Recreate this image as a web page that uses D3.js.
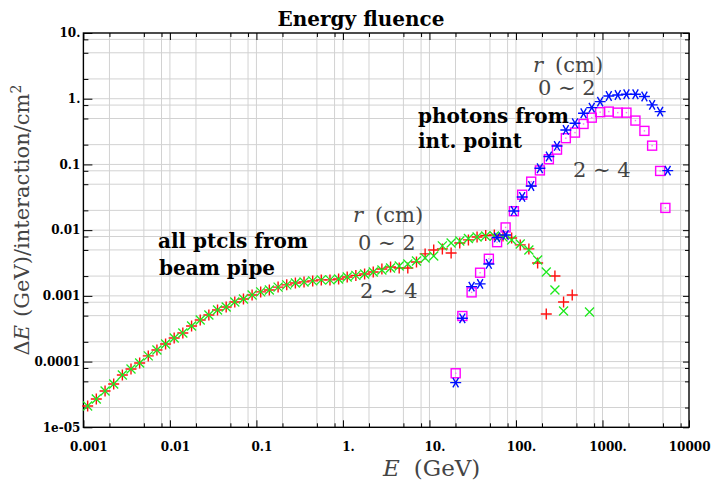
<!DOCTYPE html>
<html>
<head>
<meta charset="utf-8">
<script src="https://cdn.jsdelivr.net/npm/d3@7"></script>
<style>
body { margin: 0; background: #fff; }
svg { display: block; }
.bold { font-family: 'DejaVu Serif', serif; font-weight: bold; fill: #000; }
.math { font-family: 'DejaVu Serif', serif; fill: #444; }
.tick text { font-family: 'DejaVu Serif', serif; font-weight: bold; font-size: 12px; fill: #000; }
.tick line { stroke: #000; }
.domain { display: none; }
</style>
</head>
<body>
<div id="chart"></div>
<script>
// beam pipe particles (red + : r 0~2, green x : r 2~4)
const beamE = [0.00112, 0.00141, 0.00178, 0.00224, 0.00282, 0.00355, 0.00447, 0.00562, 0.00708, 0.00891,
  0.0112, 0.0141, 0.0178, 0.0224, 0.0282, 0.0355, 0.0447, 0.0562, 0.0708, 0.0891,
  0.112, 0.141, 0.178, 0.224, 0.282, 0.355, 0.447, 0.562, 0.708, 0.891,
  1.12, 1.41, 1.78, 2.24, 2.82, 3.55, 4.47, 5.62, 7.08, 8.91,
  11.2, 14.1, 17.8, 22.4, 28.2, 35.5, 44.7, 56.2, 70.8, 89.1,
  112, 141, 178, 224, 282, 355, 447, 562, 708]

const redV = [2.11e-5, 2.70e-5, 3.57e-5, 4.56e-5, 6.25e-5, 7.70e-5, 9.52e-5, 1.22e-4, 1.50e-4, 1.85e-4,
  2.29e-4, 2.72e-4, 3.48e-4, 4.29e-4, 5.12e-4, 6.09e-4, 6.77e-4, 8.07e-4, 8.97e-4, 1.03e-3,
  1.15e-3, 1.23e-3, 1.36e-3, 1.47e-3, 1.57e-3, 1.63e-3, 1.69e-3, 1.75e-3, 1.75e-3, 1.81e-3,
  1.94e-3, 2.05e-3, 2.15e-3, 2.31e-3, 2.56e-3, 2.75e-3, 2.66e-3, 2.66e-3, 3.28e-3, 4.35e-3,
  5.0e-3, 5.18e-3, 4.50e-3, 6.38e-3, 7.10e-3, 7.87e-3, 8.31e-3, 8.45e-3, 8.17e-3, 7.60e-3,
  5.96e-3, 5.18e-3, 3.17e-3, 5.31e-4, 2.01e-3, 8.07e-4, 1.03e-3, null, null]

const greenV = [2.11e-5, 2.70e-5, 3.57e-5, 4.56e-5, 6.25e-5, 7.70e-5, 9.52e-5, 1.22e-4, 1.50e-4, 1.85e-4,
  2.29e-4, 2.72e-4, 3.48e-4, 4.29e-4, 5.12e-4, 6.09e-4, 6.77e-4, 8.07e-4, 8.97e-4, 1.03e-3,
  1.15e-3, 1.23e-3, 1.36e-3, 1.47e-3, 1.57e-3, 1.63e-3, 1.69e-3, 1.75e-3, 1.75e-3, 1.81e-3,
  1.94e-3, 2.05e-3, 2.15e-3, 2.31e-3, 2.48e-3, 2.66e-3, 2.85e-3, 3.06e-3, 3.40e-3, 3.78e-3,
  4.05e-3, 5.77e-3, 6.38e-3, 6.85e-3, 7.48e-3, 7.87e-3, 8.17e-3, 8.17e-3, 7.87e-3, 7.10e-3,
  6.17e-3, 5.0e-3, 3.52e-3, 2.31e-3, 1.23e-3, 5.89e-4, null, null, 5.69e-4]

// photons from interaction point (blue * : r 0~2, magenta squares : r 2~4)
const blueE = [20.1, 24.0, 30.7, 38.5, 48.6, 60.5, 75.9, 94.6, 118, 150, 189, 240, 298,
  377, 481, 604, 752, 940, 1183, 1502, 1892, 2404, 3053, 3747, 4638, 5675]
const blueV = [4.78e-5, 4.56e-4, 1.38e-3, 1.52e-3, 3.06e-3, 7.74e-3, 8.45e-3, 0.0196, 0.032, 0.047, 0.0875, 0.132, 0.191,
  0.335, 0.424, 0.601, 0.733, 0.904, 1.10, 1.14, 1.17, 1.17, 1.08, 0.805, 0.637, 0.0805]

const magentaE = [20.1, 24.0, 30.7, 38.5, 48.6, 60.5, 75.9, 94.6, 118, 150, 189, 240, 298,
  377, 481, 604, 752, 940, 1183, 1502, 1892, 2404, 3053, 3747, 4638, 5333]
const magentaV = [6.64e-5, 4.94e-4, 1.13e-3, 2.25e-3, 3.67e-3, 6.56e-3, 0.011, 0.0194, 0.0346, 0.0547, 0.0811, 0.12, 0.168,
  0.251, 0.305, 0.413, 0.515, 0.624, 0.637, 0.614, 0.614, 0.465, 0.324, 0.193, 0.0796, 0.0218]

const xTicks = [0.001, 0.01, 0.1, 1, 10, 100, 1000, 10000]
const xTickLabels = ['0.001', '0.01', '0.1', '1.', '10.', '100.', '1000.', '10000']
const yTicks = [1e-5, 1e-4, 1e-3, 0.01, 0.1, 1, 10]
const yTickLabels = ['1e-05', '0.0001', '0.001', '0.01', '0.1', '1.', '10.']
const minorSteps = [2, 5, 8]

let width = 711
let height = 487

let svg = d3.select('#chart').append('svg')
.attr('width', width)
.attr('height', height)

let x = d3.scaleLog().domain([0.001, 10000]).range([83.4, 689])
let y = d3.scaleLog().domain([1e-5, 10]).range([427.3, 33])

const minorOf = ticks => ticks.slice(0, -1).flatMap(d => minorSteps.map(m => m * d))
let xMinor = minorOf(xTicks)
let yMinor = minorOf(yTicks)

// grid lines at 1, 2, 5, 8 of every decade
let grid = svg.append('g')
.attr('stroke', '#d2d2d2')
.attr('stroke-width', 1)

grid.selectAll('.gx')
.data(xMinor.concat(xTicks.slice(1, -1)))
.enter()
.append('line')
.attr('x1', d => x(d)).attr('x2', d => x(d))
.attr('y1', y(10)).attr('y2', y(1e-5))

grid.selectAll('.gy')
.data(yMinor.concat(yTicks.slice(1, -1)))
.enter()
.append('line')
.attr('y1', d => y(d)).attr('y2', d => y(d))
.attr('x1', x(0.001)).attr('x2', x(10000))

// axes, ticks pointing inward
let plotBottom = y(1e-5), plotTop = y(10), plotLeft = x(0.001), plotRight = x(10000)

svg.append('g')
.attr('transform', `translate(0,${plotBottom})`)
.call(d3.axisBottom(x).tickValues(xTicks).tickFormat((d, i) => xTickLabels[i]).tickSize(-7).tickPadding(15))
.selectAll('text')
.attr('dx', (d, i) => i === xTicks.length - 1 ? 21 : 5)
.attr('text-anchor', (d, i) => i === xTicks.length - 1 ? 'end' : 'middle')

svg.append('g')
.attr('transform', `translate(0,${plotBottom})`)
.call(d3.axisBottom(x).tickValues(xMinor).tickFormat('').tickSize(-4))

svg.append('g')
.attr('transform', `translate(0,${plotTop})`)
.call(d3.axisTop(x).tickValues(xTicks).tickFormat('').tickSize(-7))

svg.append('g')
.attr('transform', `translate(0,${plotTop})`)
.call(d3.axisTop(x).tickValues(xMinor).tickFormat('').tickSize(-4))

svg.append('g')
.attr('transform', `translate(${plotLeft},0)`)
.call(d3.axisLeft(y).tickValues(yTicks).tickFormat((d, i) => yTickLabels[i]).tickSize(-9).tickPadding(3))

svg.append('g')
.attr('transform', `translate(${plotLeft},0)`)
.call(d3.axisLeft(y).tickValues(yMinor).tickFormat('').tickSize(-5))

svg.append('g')
.attr('transform', `translate(${plotRight},0)`)
.call(d3.axisRight(y).tickValues(yTicks).tickFormat('').tickSize(-6))

svg.append('g')
.attr('transform', `translate(${plotRight},0)`)
.call(d3.axisRight(y).tickValues(yMinor).tickFormat('').tickSize(-4))

svg.append('rect')
.attr('x', plotLeft).attr('y', plotTop)
.attr('width', plotRight - plotLeft).attr('height', plotBottom - plotTop)
.attr('fill', 'none')
.attr('stroke', '#000')
.attr('stroke-width', 1.4)

// markers
const pts = (es, vs) => es.map((e, i) => ({ e: e, v: vs[i] })).filter(d => d.v != null)

const drawMarks = (data, shape, color, sw) => {
	svg.append('g').selectAll('path')
	.data(data)
	.enter()
	.append('path')
	.attr('transform', d => `translate(${x(d.e)},${y(d.v)})`)
	.attr('d', shape)
	.attr('fill', 'none')
	.attr('stroke', color)
	.attr('stroke-width', sw)
}

drawMarks(pts(beamE, redV), 'M-5.5,0H5.5M0,-5.5V5.5', '#ff1010', 1.4)
drawMarks(pts(beamE, greenV), 'M-4.5,-4.5L4.5,4.5M-4.5,4.5L4.5,-4.5', '#1ee81e', 1.3)

let squares = svg.append('g').selectAll('g')
.data(pts(magentaE, magentaV))
.enter()
.append('g')
.attr('transform', d => `translate(${x(d.e)},${y(d.v)})`)

squares.append('rect')
.attr('x', -4.5).attr('y', -4.5)
.attr('width', 9).attr('height', 9)
.attr('fill', 'none')
.attr('stroke', '#ff00ff')
.attr('stroke-width', 1.4)

squares.append('rect')
.attr('x', -0.7).attr('y', -0.7)
.attr('width', 1.4).attr('height', 1.4)
.attr('fill', '#ff66ff')

drawMarks(pts(blueE, blueV), 'M-5.5,0H5.5M-2.8,-4.8L2.8,4.8M-2.8,4.8L2.8,-4.8', '#0010ff', 1.4)

// title and axis titles
svg.append('text')
.attr('class', 'bold')
.attr('x', 361).attr('y', 26)
.attr('text-anchor', 'middle')
.style('font-size', '20px')
.text('Energy fluence')

let xt = svg.append('text')
.attr('class', 'math')
.attr('x', 383).attr('y', 476)
.style('font-size', '23px')
xt.append('tspan').style('font-style', 'italic').text('E')
xt.append('tspan').attr('dx', 14).text('(GeV)')

let yt = svg.append('text')
.attr('class', 'math')
.attr('transform', 'translate(29,220) rotate(-90)')
.attr('text-anchor', 'middle')
.style('font-size', '21px')
yt.append('tspan').text('Δ')
yt.append('tspan').style('font-style', 'italic').text('E')
yt.append('tspan').attr('dx', 8).text('(GeV)/interaction/cm')
yt.append('tspan').attr('dy', -8).style('font-size', '14px').text('2')

// annotations
const boldLabel = (tx, ty, s) => svg.append('text').attr('class', 'bold')
.attr('x', tx).attr('y', ty).style('font-size', '20px').text(s)

boldLabel(418, 123, 'photons from')
boldLabel(418, 148, 'int. point')
boldLabel(158, 248, 'all ptcls from')
boldLabel(159, 275, 'beam pipe')

const rcm = (tx, ty) => {
	let t = svg.append('text').attr('class', 'math')
	.attr('x', tx).attr('y', ty).style('font-size', '21px')
	t.append('tspan').style('font-style', 'italic').text('r')
	t.append('tspan').attr('dx', 12).text('(cm)')
}

const rangeLabel = (tx, ty, s) => svg.append('text').attr('class', 'math')
.attr('x', tx).attr('y', ty).style('font-size', '21px').text(s)

rcm(533, 72)
rangeLabel(538, 95, '0 ∼ 2')
rangeLabel(573, 177, '2 ∼ 4')
rcm(353, 222)
rangeLabel(358, 250, '0 ∼ 2')
rangeLabel(360, 298, '2 ∼ 4')
</script>
</body>
</html>
